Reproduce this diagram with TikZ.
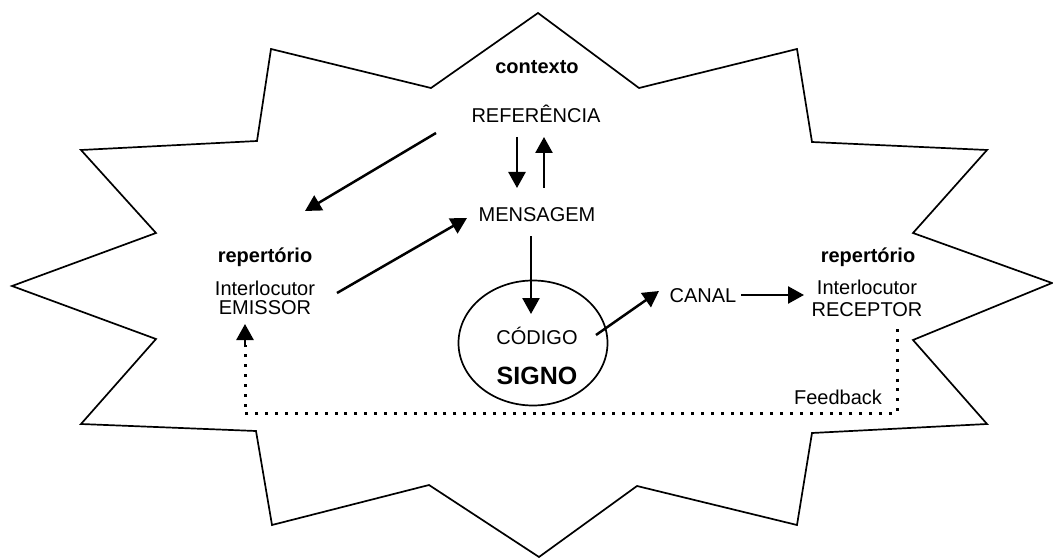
\documentclass[tikz,border=0pt]{standalone}
\usepackage{fontspec}
\setmainfont{Liberation Sans}
\usetikzlibrary{arrows.meta,shapes.geometric}

\tikzset{
  lbl/.style={anchor=base, inner sep=0pt, font=\fontsize{20}{23}\selectfont},
  lblbold/.style={lbl, font=\fontsize{20}{23}\selectfont\bfseries},
  frame/.style={line width=1.7pt, line join=miter},
  flow/.style={line width=2.5pt, -{Triangle[width=17pt,length=16pt]}},
  feedback/.style={line width=3pt, dash pattern=on 3pt off 6.9pt},
  fbhead/.style={line width=2.5pt, -{Triangle[width=17pt,length=16pt]}},
  sign/.style={draw, ellipse, line width=1.7pt, minimum width=149pt, minimum height=125pt, inner sep=0pt}
}

\begin{document}
\begin{tikzpicture}[x={(1pt,0)}, y={(0,-1pt)}]
  \useasboundingbox (0,0) rectangle (1053,559);

  % context star
  \draw[frame] (538,13) -- (639,88) -- (797,49) -- (812,142) -- (987,150) -- (913,233)
    -- (1052,283) -- (913,340) -- (987,424) -- (812,433) -- (797,525) -- (637,486)
    -- (539,557) -- (429,485) -- (272,525) -- (256,431) -- (81,424) -- (156,339)
    -- (12,286) -- (156,233) -- (81,150) -- (257,141) -- (271,49) -- (431,88) -- cycle;

  % labels
  \node[lblbold] (ctx) at (537,74) {contexto};
  \node[lbl] (ref) at (536,123) {REFERÊNCIA};
  \node[lbl] (msg) at (537,222) {MENSAGEM};

  \node[lblbold] (repL) at (265,262) {repertório};
  \node[lbl] (intL) at (265,295) {Interlocutor};
  \node[lbl] (emi) at (265,314) {EMISSOR};

  \node[lblbold] (repR) at (868,262) {repertório};
  \node[lbl] (intR) at (867,294) {Interlocutor};
  \node[lbl] (rec) at (867,316) {RECEPTOR};

  \node[sign] (cod) at (533,343) {};
  \node[lbl] (codtxt) at (537,344) {CÓDIGO};
  \node[anchor=base, inner sep=0pt, font=\fontsize{25}{29}\selectfont\bfseries] (sig) at (537,384) {SIGNO};

  \node[lbl] (can) at (703,302) {CANAL};
  \node[lbl] (fb) at (838,404) {Feedback};

  % connector end points
  \coordinate (refDownA) at (517,137);
  \coordinate (msgDownB) at (517,188);
  \coordinate (msgUpA) at (544,188);
  \coordinate (refUpB) at (544,137);
  \coordinate (refL) at (436,133);
  \coordinate (repLin) at (305,211);
  \coordinate (emiOut) at (337,293);
  \coordinate (msgIn) at (467,218);
  \coordinate (msgOut) at (531,236);
  \coordinate (codIn) at (531,314);
  \coordinate (codOut) at (596,335);
  \coordinate (canIn) at (659,291);
  \coordinate (canOut) at (741,295);
  \coordinate (recIn) at (804,295);
  \coordinate (recOut) at (897,329);
  \coordinate (fbCornerR) at (897,413);
  \coordinate (fbCornerL) at (245,413);
  \coordinate (fbRise) at (245,345);
  \coordinate (emiIn) at (245,324);

  % flow arrows
  \draw[flow] (refDownA) -- (msgDownB);
  \draw[flow] (msgUpA) -- (refUpB);
  \draw[flow] (refL) -- (repLin);
  \draw[flow] (emiOut) -- (msgIn);
  \draw[flow] (msgOut) -- (codIn);
  \draw[flow] (codOut) -- (canIn);
  \draw[flow] (canOut) -- (recIn);

  % feedback loop
  \draw[feedback] (recOut) -- (fbCornerR) -- (fbCornerL) -- (fbRise);
  \draw[fbhead] (fbRise) -- (emiIn);
\end{tikzpicture}
\end{document}
